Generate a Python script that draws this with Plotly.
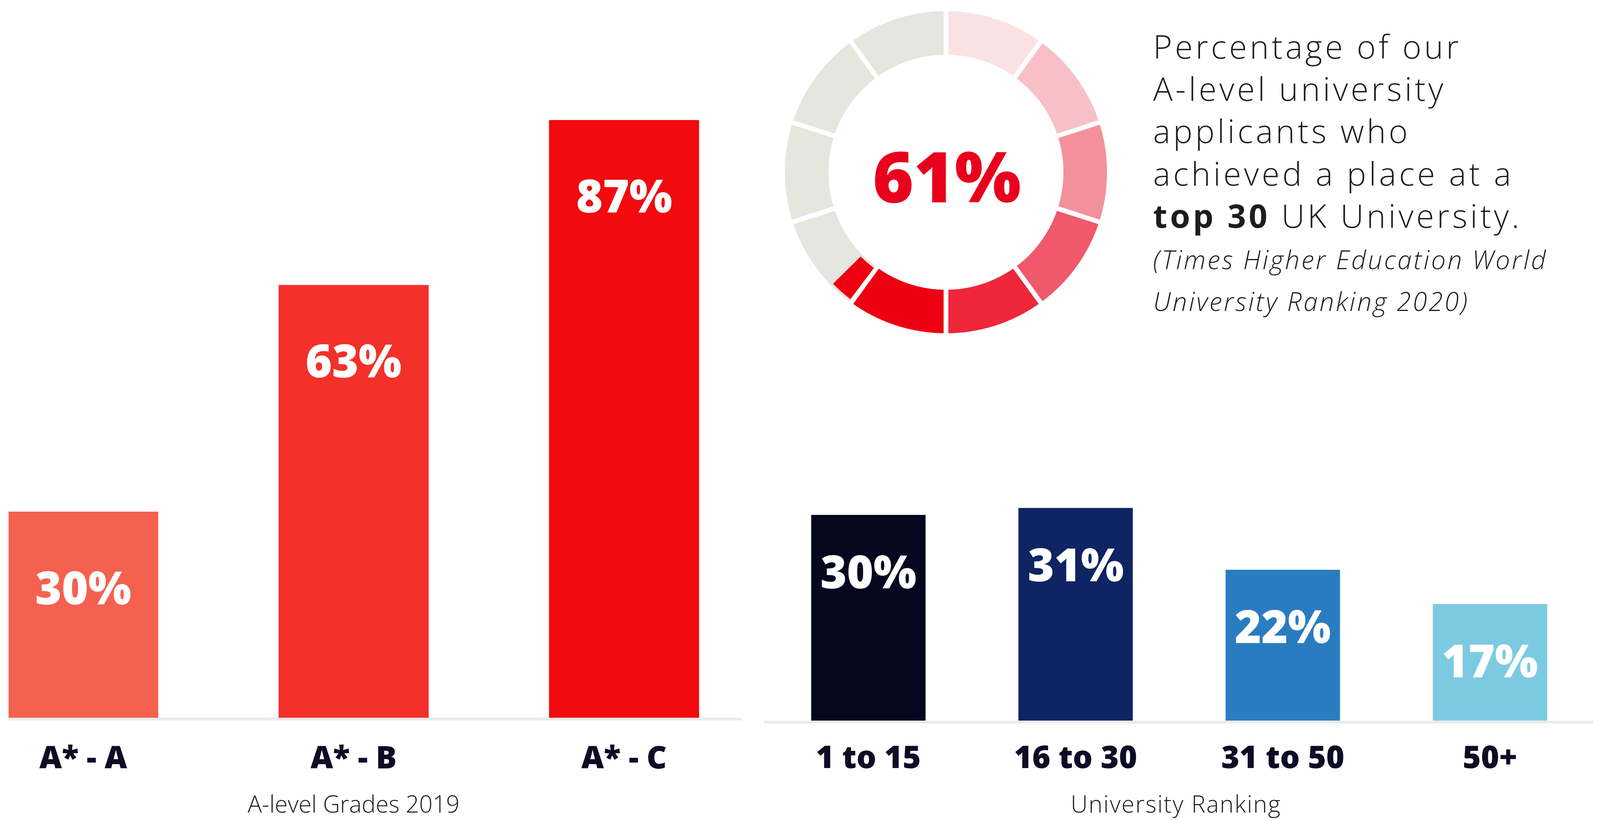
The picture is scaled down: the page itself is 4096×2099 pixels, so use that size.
import math
import plotly.graph_objects as go

# ---------------- data ----------------
grade_categories = ["A* - A", "A* - B", "A* - C"]
grade_values = [30, 63, 87]
grade_labels = ["30%", "63%", "87%"]
grade_colors = ["#f4614f", "#f3302a", "#f20a0e"]
grade_axis_title = "A-level Grades 2019"

ranking_categories = ["1 to 15", "16 to 30", "31 to 50", "50+"]
ranking_values = [30, 31, 22, 17]
ranking_labels = ["30%", "31%", "22%", "17%"]
ranking_colors = ["#05071f", "#0f2462", "#2a7cc0", "#7ccae2"]
ranking_axis_title = "University Ranking"

ring_segment_sizes = [10, 10, 10, 10, 10, 10, 10, 10, 10, 10]
ring_segment_colors = ["#fbe2e2", "#f6c0c6", "#f2919c", "#f0586b", "#ee2739",
                       "#ec0012", "#e5e6de", "#e5e6de", "#e5e6de", "#e5e6de"]
ring_fill_start = 60
ring_fill_size = 2.6
ring_fill_color = "#ee0010"
headline_value = "61%"

headline_lines = ["Percentage of our", "A-level university", "applicants who",
                  "achieved a place at a", "<b>top 30</b> UK University."]
source_lines = ["(Times Higher Education World", "University Ranking 2020)"]

# ---------------- geometry helpers (reference pixel space) ----------------
REF_W, REF_H = 4479, 2295
OUT_W, OUT_H = 4096, 2099
S = OUT_W / REF_W


def px(x):
    return x / REF_W


def py(y):
    return 1 - y / REF_H


def fs(size):
    return size * S


def spaced(text, em):
    return "<span style='letter-spacing:%.3fem'>%s</span>" % (em, text)


FONT = "Open Sans"
TEXT_DARK = "#1d1d1f"
LABEL_DARK = "#0d0c24"
BASELINE_GRAY = "#ebebeb"

fig = go.Figure()

# bars
fig.add_trace(go.Bar(x=grade_categories, y=grade_values, width=0.555,
                     marker=dict(color=grade_colors, line=dict(width=0)),
                     xaxis="x", yaxis="y", hoverinfo="skip", showlegend=False))
fig.add_trace(go.Bar(x=ranking_categories, y=ranking_values, width=0.552,
                     marker=dict(color=ranking_colors, line=dict(width=0)),
                     xaxis="x2", yaxis="y2", hoverinfo="skip", showlegend=False))

# donut ring
CX, CY = 2648, 482
R_OUT, R_IN = 451, 329
GAP = 13
ra = R_OUT + GAP / 2
fig.add_trace(go.Pie(values=ring_segment_sizes, sort=False, direction="clockwise", rotation=0,
                     hole=(R_IN - GAP / 2) / ra, textinfo="none", hoverinfo="skip", showlegend=False,
                     marker=dict(colors=ring_segment_colors, line=dict(color="white", width=GAP * S)),
                     domain=dict(x=[px(CX - ra), px(CX + ra)], y=[py(CY + ra), py(CY - ra)])))
rb = R_OUT - GAP / 2
gap_pct = (GAP / 2) / ((R_OUT + R_IN) / 2) / (2 * math.pi) * 100
fill_values = [ring_fill_start + gap_pct, ring_fill_size - gap_pct,
               100 - ring_fill_start - ring_fill_size]
fig.add_trace(go.Pie(values=fill_values, sort=False, direction="clockwise", rotation=0,
                     hole=(R_IN + GAP / 2) / rb, textinfo="none", hoverinfo="skip", showlegend=False,
                     marker=dict(colors=["rgba(0,0,0,0)", ring_fill_color, "rgba(0,0,0,0)"],
                                 line=dict(width=0)),
                     domain=dict(x=[px(CX - rb), px(CX + rb)], y=[py(CY + rb), py(CY - rb)])))

annotations = []
# bar value labels
for cat, v, lab in zip(grade_categories, grade_values, grade_labels):
    annotations.append(dict(x=cat, y=v, xref="x", yref="y", text=lab, showarrow=False,
                            yanchor="middle", yshift=-210 * S,
                            font=dict(family=FONT, size=fs(127), color="white", weight=800)))
for cat, v, lab in zip(ranking_categories, ranking_values, ranking_labels):
    annotations.append(dict(x=cat, y=v, xref="x2", yref="y2", text=lab, showarrow=False,
                            yanchor="middle", yshift=-156 * S,
                            font=dict(family=FONT, size=fs(127), color="white", weight=800)))
# axis titles
annotations.append(dict(x=1, y=py(2249), xref="x", yref="paper", text=grade_axis_title,
                        showarrow=False, yanchor="middle",
                        font=dict(family=FONT, size=fs(66), color=TEXT_DARK, weight=300)))
annotations.append(dict(x=1.485, y=py(2249), xref="x2", yref="paper",
                        text=spaced(ranking_axis_title, 0.04),
                        showarrow=False, yanchor="middle",
                        font=dict(family=FONT, size=fs(66), color=TEXT_DARK, weight=300)))
# donut centre value
annotations.append(dict(x=px(2651), y=py(490), xref="paper", yref="paper", text=headline_value,
                        showarrow=False, xanchor="center", yanchor="middle",
                        font=dict(family=FONT, size=fs(196), color="#e8001c", weight=800)))
# headline text block (one multi-line text, centred on its middle line)
headline_text = "<br>".join(spaced(line, 0.085) for line in headline_lines)
annotations.append(dict(x=px(3226), y=py(133 + 2 * 116.3), xref="paper", yref="paper",
                        text=headline_text, showarrow=False, xanchor="left", yanchor="middle",
                        align="left",
                        font=dict(family=FONT, size=fs(91), color=TEXT_DARK, weight=300)))
for i, line in enumerate(source_lines):
    annotations.append(dict(x=px(3226), y=py(726 + i * 116), xref="paper", yref="paper",
                            text=spaced(line, 0.07), showarrow=False, xanchor="left",
                            yanchor="middle",
                            font=dict(family=FONT, size=fs(72), color=TEXT_DARK, weight=300,
                                      style="italic")))

axis_common = dict(showgrid=False, zeroline=False, showline=True, linecolor=BASELINE_GRAY,
                   linewidth=8 * S, layer="below traces", ticks="", type="category",
                   fixedrange=True,
                   tickfont=dict(family=FONT, size=fs(87), color=LABEL_DARK, weight=800))

fig.update_layout(
    width=OUT_W, height=OUT_H,
    margin=dict(l=0, r=0, t=0, b=0),
    paper_bgcolor="white", plot_bgcolor="rgba(0,0,0,0)",
    showlegend=False,
    xaxis=dict(domain=[px(24), px(2075)], range=[(24 - 233) / 757, (2075 - 233) / 757],
               anchor="y", ticklabelstandoff=27, **axis_common),
    yaxis=dict(domain=[py(2009), 1], range=[0, 2009 / 19.23], visible=False, anchor="x"),
    xaxis2=dict(domain=[px(2138), px(4460)], range=[-0.505, 3.498], anchor="y2",
                ticklabelstandoff=19, **axis_common),
    yaxis2=dict(domain=[py(2017), 1], range=[0, 2017 / 19.2], visible=False, anchor="x2"),
    annotations=annotations,
)

fig.write_html("out.html", config={"displayModeBar": False},
               post_script="document.body.style.margin='0';")
